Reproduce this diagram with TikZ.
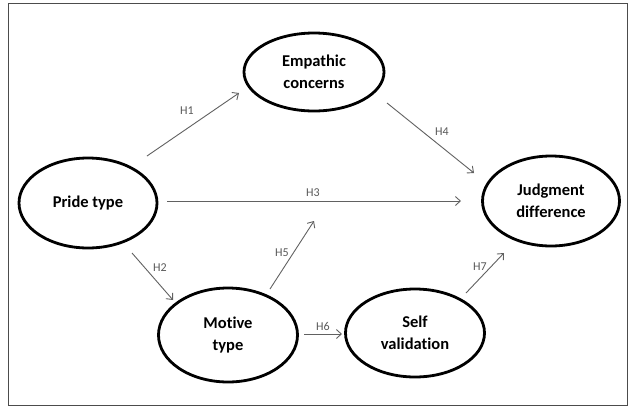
\documentclass[tikz,border=0pt]{standalone}
\usepackage{fontspec}
\setmainfont{Carlito}[Ligatures={NoCommon}]
\usetikzlibrary{arrows.meta,shapes.geometric}
\begin{document}
\begin{tikzpicture}[x=1pt,y=-1pt,
  var/.style={ellipse,draw=black,line width=2.8pt,inner sep=0pt,align=center,
    font=\fontsize{16.5}{22}\selectfont\bfseries,text=black},
  conn/.style={draw=black!62,line width=0.9pt,-{Straight Barb[length=5pt,width=9pt]}},
  hlab/.style={font=\fontsize{12}{13}\selectfont,text=black!65,inner sep=0pt}]
\useasboundingbox (0,0) rectangle (632,408);
\fill[white] (0,0) rectangle (632,408);
\draw[black!70,line width=1.6pt] (8.5,3.5) rectangle (627.5,405.5);

\node[var,minimum width=140pt,minimum height=78pt] (emp) at (314,72) {Empathic\\concerns};
\node[var,minimum width=138pt,minimum height=90pt] (pride) at (88,203) {Pride type};
\node[var,minimum width=137pt,minimum height=90pt] (judg) at (551,201) {Judgment\\difference};
\node[var,minimum width=139pt,minimum height=94pt] (motive) at (228,335) {Motive\\type};
\node[var,minimum width=139pt,minimum height=88pt] (self) at (415,333) {Self\\validation};

\coordinate (h1a) at (147,156); \coordinate (h1b) at (239,93);
\coordinate (h4a) at (387,103); \coordinate (h4b) at (474,173);
\coordinate (h3a) at (167,201); \coordinate (h3b) at (461,201);
\coordinate (h2a) at (132,253); \coordinate (h2b) at (173,300);
\coordinate (h5a) at (270,289); \coordinate (h5b) at (314,221);
\coordinate (h6a) at (304,334); \coordinate (h6b) at (342,334);
\coordinate (h7a) at (466,293); \coordinate (h7b) at (504,253);

\draw[conn] (h1a) -- (h1b);
\draw[conn] (h4a) -- (h4b);
\draw[conn] (h3a) -- (h3b);
\draw[conn] (h2a) -- (h2b);
\draw[conn] (h5a) -- (h5b);
\draw[conn] (h6a) -- (h6b);
\draw[conn] (h7a) -- (h7b);

\node[hlab] (l1) at (187,111) {H1};
\node[hlab] (l4) at (442,132) {H4};
\node[hlab] (l3) at (313,193) {H3};
\node[hlab] (l2) at (160,268) {H2};
\node[hlab] (l5) at (282,253) {H5};
\node[hlab] (l6) at (323,326) {H6};
\node[hlab] (l7) at (480,267) {H7};
\end{tikzpicture}
\end{document}
